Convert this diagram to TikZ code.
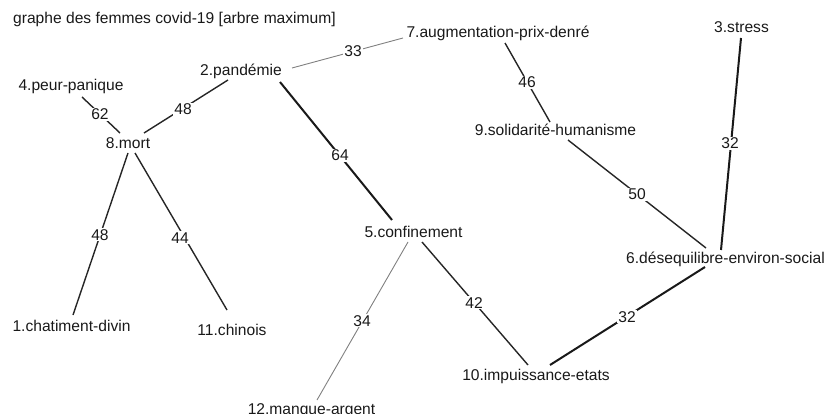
\documentclass[tikz,border=0pt]{standalone}
\usepackage{fontspec}
\setmainfont{Liberation Sans}
\usetikzlibrary{calc}
\tikzset{
  vlab/.style={anchor=base, inner sep=0pt, font=\fontsize{15.6}{18}\selectfont, text=black!90},
  elab/.style={anchor=base, inner sep=1.2pt, fill=white, font=\fontsize{15.6}{18}\selectfont, text=black!90},
  ethick/.style={draw=black!90, line width=2pt},
  emed/.style={draw=black!85, line width=1.4pt},
  ethin/.style={draw=black!50, line width=0.9pt},
}
\begin{document}
\begin{tikzpicture}[x=1pt,y=-1pt]
\useasboundingbox (0,0) rectangle (824,414);
\node[vlab, anchor=base west] (title) at (13,24) {graphe des femmes covid-19 [arbre maximum]};
% vertices
\node[vlab] (n7) at (498,38) {7.augmentation-prix-denré};
\node[vlab] (n3) at (741.5,33) {3.stress};
\node[vlab] (n2) at (241,76) {2.pandémie};
\node[vlab] (n4) at (71,91) {4.peur-panique};
\node[vlab] (n8) at (128,149) {8.mort};
\node[vlab] (n9) at (555.5,136) {9.solidarité-humanisme};
\node[vlab] (n5) at (413.5,237) {5.confinement};
\node[vlab] (n6) at (725.5,263) {6.désequilibre-environ-social};
\node[vlab] (n1) at (71.5,331) {1.chatiment-divin};
\node[vlab] (n11) at (232,335) {11.chinois};
\node[vlab] (n10) at (536,380) {10.impuissance-etats};
\node[vlab] (n12) at (311.5,414) {12.manque-argent};
% edges
\draw[ethin] ($(n2.base)+(51,-8)$) -- ($(n7.base)+(-95,0)$);
\draw[emed] ($(n2.base)+(-13,4)$) -- ($(n8.base)+(16,-16)$);
\draw[emed] ($(n4.base)+(11,6)$) -- ($(n8.base)+(-8,-16)$);
\draw[ethick] ($(n2.base)+(39,6)$) -- ($(n5.base)+(-21.5,-17)$);
\draw[emed] ($(n7.base)+(7,5)$) -- ($(n9.base)+(-5.5,-14)$);
\draw[emed] ($(n9.base)+(12.5,4)$) -- ($(n6.base)+(-19.5,-15)$);
\draw[ethick] ($(n3.base)+(-0.5,5)$) -- ($(n6.base)+(-4.5,-13)$);
\draw[emed] ($(n8.base)+(0,4)$) -- ($(n1.base)+(1.5,-16)$);
\draw[emed] ($(n8.base)+(7,4)$) -- ($(n11.base)+(-5,-25)$);
\draw[ethin] ($(n5.base)+(-5.5,5)$) -- ($(n12.base)+(5.5,-14)$);
\draw[emed] ($(n5.base)+(8.5,5)$) -- ($(n10.base)+(-8,-15)$);
\draw[ethick] ($(n10.base)+(14,-15)$) -- ($(n6.base)+(-20.5,4)$);
% edge labels
\node[elab] (l27) at (353,57) {33};
\node[elab] (l48) at (100,120) {62};
\node[elab] (l28) at (183,115) {48};
\node[elab] (l25) at (340,161) {64};
\node[elab] (l79) at (527,88) {46};
\node[elab] (l36) at (730,149) {32};
\node[elab] (l96) at (637,200) {50};
\node[elab] (l81) at (100,240) {48};
\node[elab] (l811) at (180,243) {44};
\node[elab] (l512) at (362,326) {34};
\node[elab] (l510) at (474,308) {42};
\node[elab] (l106) at (627,322) {32};
\end{tikzpicture}
\end{document}
